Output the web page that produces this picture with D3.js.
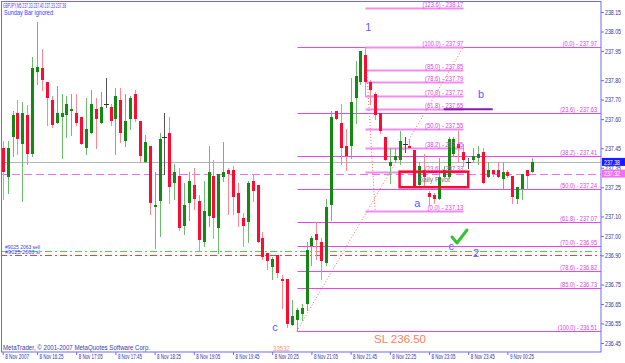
<!DOCTYPE html>
<html>
<head>
<meta charset="utf-8">
<script src="https://cdn.jsdelivr.net/npm/d3@7"></script>
<style>
body { margin: 0; background: #fff; }
svg text { font-family: "Liberation Sans", Arial, sans-serif; }
</style>
</head>
<body>
<div id="chart"></div>
<script>
// GBPJPY M5 bars, 8 Nov 2007 15:50 .. 9 Nov 00:50
var opens = [237.45,237.30,237.51,237.63,237.47,237.62,237.42,237.84,237.86,237.79,
  237.70,237.58,237.61,237.62,237.64,237.63,237.61,237.45,237.53,237.65,
  237.58,237.68,237.66,237.60,237.70,237.49,237.60,237.73,237.59,237.38,
  237.46,237.15,237.18,237.51,237.53,237.27,237.31,237.05,237.17,237.26,
  237.18,236.97,237.10,237.31,237.04,237.30,237.34,237.34,237.22,237.09,
  237.07,237.28,237.26,236.99,236.91,236.84,236.90,236.78,236.78,236.54,
  236.57,236.60,236.65,236.95,237.01,236.97,236.86,237.16,237.64,237.58,
  237.46,237.46,237.71,237.79,237.93,237.79,237.73,237.63,237.51,237.36,
  237.39,237.39,237.47,237.46,237.44,237.26,237.34,237.22,237.21,237.19,
  237.30,237.30,237.42,237.47,237.43,237.38,237.39,237.40,237.43,237.30,
  237.34,237.34,237.29,237.33,237.31,237.19,237.24,237.34,237.33];
var highs = [237.49,237.49,237.64,237.70,237.69,237.67,237.92,238.10,237.96,237.79,
  237.72,237.77,237.73,237.72,237.73,237.73,237.61,237.71,237.75,237.71,
  237.74,237.81,237.68,237.76,237.76,237.73,237.72,237.75,237.59,237.52,
  237.46,237.33,237.53,237.63,237.61,237.37,237.35,237.27,237.33,237.35,
  237.21,237.28,237.46,237.39,237.32,237.48,237.35,237.36,237.27,237.12,
  237.28,237.32,237.26,237.02,236.91,236.89,236.90,236.80,236.78,236.67,
  236.63,236.65,236.97,237.00,237.07,236.99,237.19,237.64,237.64,237.68,
  237.55,237.81,237.90,237.95,237.97,237.80,237.74,237.63,237.51,237.45,
  237.45,237.54,237.51,237.50,237.44,237.38,237.42,237.23,237.22,237.40,
  237.36,237.51,237.51,237.54,237.47,237.40,237.45,237.46,237.45,237.38,
  237.34,237.38,237.38,237.34,237.31,237.25,237.32,237.34,237.40];
var lows = [237.19,237.22,237.41,237.42,237.18,237.37,237.41,237.78,237.75,237.57,
  237.56,237.58,237.40,237.51,237.52,237.57,237.47,237.42,237.53,237.45,
  237.58,237.66,237.57,237.42,237.48,237.46,237.55,237.59,237.38,237.38,
  237.11,236.94,237.00,237.32,237.17,237.19,237.03,237.01,237.08,237.14,
  236.92,236.95,237.05,236.99,236.91,237.28,237.11,237.11,237.05,236.95,
  236.97,237.18,236.97,236.88,236.83,236.78,236.79,236.63,236.53,236.54,
  236.51,236.57,236.62,236.85,236.88,236.78,236.85,237.08,237.60,237.37,
  237.34,237.40,237.58,237.78,237.72,237.68,237.60,237.53,237.39,237.27,
  237.38,237.37,237.43,237.45,237.25,237.25,237.25,237.16,237.17,237.19,
  237.30,237.30,237.41,237.38,237.36,237.35,237.38,237.37,237.27,237.30,
  237.31,237.30,237.24,237.30,237.17,237.17,237.19,237.24,237.33];
var closes = [237.33,237.45,237.62,237.50,237.63,237.42,237.86,237.87,237.80,237.71,
  237.57,237.63,237.63,237.68,237.65,237.58,237.47,237.55,237.68,237.60,
  237.66,237.68,237.59,237.72,237.53,237.59,237.71,237.60,237.41,237.48,
  237.17,237.16,237.50,237.51,237.25,237.33,237.04,237.16,237.28,237.19,
  236.98,237.13,237.33,237.09,237.32,237.33,237.32,237.20,237.12,237.05,
  237.27,237.23,236.97,236.89,236.87,236.88,236.81,236.77,236.55,236.59,
  236.62,236.63,236.93,236.99,236.98,236.87,237.15,237.61,237.60,237.45,
  237.41,237.69,237.82,237.95,237.79,237.75,237.62,237.54,237.39,237.38,
  237.41,237.49,237.47,237.45,237.25,237.36,237.30,237.20,237.19,237.30,
  237.34,237.50,237.50,237.45,237.39,237.38,237.41,237.42,237.27,237.34,
  237.32,237.30,237.33,237.31,237.20,237.25,237.32,237.31,237.38];

var timeTickBars = [0, 7, 15, 23, 31, 39, 47, 55, 63, 71, 79, 87, 95, 103];
var timeTickLabels = ['8 Nov 2007', '8 Nov 16:25', '8 Nov 17:05', '8 Nov 17:45', '8 Nov 18:25',
  '8 Nov 19:05', '8 Nov 19:45', '8 Nov 20:25', '8 Nov 21:05', '8 Nov 21:45',
  '8 Nov 22:25', '8 Nov 23:05', '8 Nov 23:45', '9 Nov 00:25'];
var priceTicks = [238.15, 238.05, 237.95, 237.80, 237.70, 237.60, 237.45, 237.35,
  237.25, 237.10, 237.00, 236.90, 236.75, 236.65, 236.55, 236.45];

// fibo from swing low (bar 60) to swing high (bar 74)
var fib1Levels = ['0.0', '23.6', '38.2', '50.0', '61.8', '70.0', '78.6', '85.0', '100.0'];
var fib1Prices = [237.97, 237.63, 237.41, 237.24, 237.07, 236.95, 236.82, 236.73, 236.51];
// fibo from high (bar 74) to pullback low
var fib2Levels = ['123.6', '100.0', '85.0', '78.6', '70.0', '61.8', '50.0', '38.2', '23.6', '0.0'];
var fib2Prices = [238.17, 237.97, 237.85, 237.79, 237.72, 237.65, 237.55, 237.45, 237.33, 237.13];

var bidPrice = 237.38;
var pivotPrice = 237.32;
var orderPrice = 236.92;
var stopPrice = 236.90;

var W = 625, H = 363;
var plotRight = 601, plotBottom = 352;

var svg = d3.select('#chart').append('svg')
    .attr('width', W)
    .attr('height', H)

svg.append('rect').attr('width', W).attr('height', H).attr('fill', '#ffffff')

var x = d3.scaleLinear().domain([0, 122]).range([2.7, 600.5]);
var y = d3.scaleLinear().domain([236.45, 238.15]).range([343, 12]);

svg.append('clipPath').attr('id', 'plot')
  .append('rect').attr('x', 1).attr('y', 1).attr('width', plotRight - 1).attr('height', plotBottom - 1)

var plot = svg.append('g').attr('clip-path', 'url(#plot)')

function px(i) { return Math.round(x(i)) + 0.5; }
function py(v) { return Math.round(y(v)) + 0.5; }

// fib 1 levels
plot.selectAll('line.fib1')
  .data(fib1Prices)
  .enter()
  .append('line')
  .attr('x1', px(60)).attr('x2', plotRight)
  .attr('y1', d => py(d)).attr('y2', d => py(d))
  .attr('stroke', '#ee44ee')
  .attr('stroke-width', 1)

// fib 2 levels
plot.selectAll('line.fib2')
  .data(fib2Prices)
  .enter()
  .append('line')
  .attr('x1', px(74)).attr('x2', px(94))
  .attr('y1', d => py(d)).attr('y2', d => py(d))
  .attr('stroke', '#f08cf0')
  .attr('stroke-width', 2)

// fibo diagonals
plot.append('line')
  .attr('x1', x(60)).attr('y1', y(236.51)).attr('x2', x(94)).attr('y2', y(237.97))
  .attr('stroke', '#ff6a6a').attr('stroke-dasharray', '1,2')
plot.append('line')
  .attr('x1', x(74)).attr('y1', y(237.97)).attr('x2', x(76)).attr('y2', y(237.13))
  .attr('stroke', '#ff6a6a').attr('stroke-dasharray', '1,2')

// bid line and daily pivot
plot.append('line')
  .attr('x1', 0).attr('x2', plotRight).attr('y1', py(bidPrice)).attr('y2', py(bidPrice))
  .attr('stroke', '#b4b4b4')
plot.append('line')
  .attr('x1', 0).attr('x2', plotRight).attr('y1', py(pivotPrice)).attr('y2', py(pivotPrice))
  .attr('stroke', '#f070f0').attr('stroke-dasharray', '8,4')

// order and stop lines
plot.append('line')
  .attr('x1', 0).attr('x2', plotRight).attr('y1', py(orderPrice)).attr('y2', py(orderPrice))
  .attr('stroke', '#4fd04f').attr('stroke-dasharray', '7,3,2,3')
plot.append('line')
  .attr('x1', 0).attr('x2', plotRight).attr('y1', py(stopPrice)).attr('y2', py(stopPrice))
  .attr('stroke', '#ff3a3a').attr('stroke-dasharray', '7,3,2,3')

// candles
var bars = d3.range(opens.length).map(function(i) {
  return {i: i, o: opens[i], h: highs[i], l: lows[i], c: closes[i]};
});

plot.selectAll('line.wick')
  .data(bars)
  .enter()
  .append('line')
  .attr('x1', d => px(d.i)).attr('x2', d => px(d.i))
  .attr('y1', d => Math.round(y(d.h))).attr('y2', d => Math.round(y(d.l)) + 1)
  .attr('stroke', function(d) {
    if (d.c > d.o) return '#6cbc6c';
    if (d.c < d.o) return '#ff8794';
    return '#555555';
  })

plot.selectAll('rect.body')
  .data(bars.filter(d => d.c != d.o))
  .enter()
  .append('rect')
  .attr('x', d => Math.round(x(d.i)) - 1)
  .attr('width', 3)
  .attr('y', d => Math.round(y(Math.max(d.o, d.c))))
  .attr('height', d => Math.max(2, Math.round(y(Math.min(d.o, d.c))) - Math.round(y(Math.max(d.o, d.c)))))
  .attr('fill', d => d.c > d.o ? '#128a12' : '#ff0a30')

plot.selectAll('line.doji')
  .data(bars.filter(d => d.c == d.o))
  .enter()
  .append('line')
  .attr('x1', d => Math.round(x(d.i)) - 2).attr('x2', d => Math.round(x(d.i)) + 3)
  .attr('y1', d => py(d.o)).attr('y2', d => py(d.o))
  .attr('stroke', '#333333')

// daily pivot box
plot.append('rect')
  .attr('x', x(81)).attr('y', y(237.33))
  .attr('width', x(95) - x(81)).attr('height', y(237.25) - y(237.33))
  .attr('fill', 'none').attr('stroke', '#ff0a30').attr('stroke-width', 2.5)
plot.append('text').text('Daily Pivot')
  .attr('x', 418).attr('y', 182).attr('font-size', 7).attr('fill', '#707070')
  .attr('textLength', 32).attr('lengthAdjust', 'spacingAndGlyphs')

// wave b line
plot.append('line')
  .attr('x1', x(90)).attr('x2', x(100)).attr('y1', y(237.65)).attr('y2', y(237.65))
  .attr('stroke', '#8a1aa8').attr('stroke-width', 2)

// fib labels
plot.selectAll('text.f1')
  .data(fib1Prices)
  .enter()
  .append('text')
  .text((d, i) => '(' + fib1Levels[i] + ') - ' + d.toFixed(2))
  .attr('x', 597).attr('y', d => py(d) - 1.5)
  .attr('text-anchor', 'end')
  .attr('font-size', 6.5).attr('fill', '#e040e0')
  .attr('textLength', function() { return this.textContent.length * 2.45; })
  .attr('lengthAdjust', 'spacingAndGlyphs')

plot.selectAll('text.f2')
  .data(fib2Prices)
  .enter()
  .append('text')
  .text((d, i) => '(' + fib2Levels[i] + ') - ' + d.toFixed(2))
  .attr('x', x(94)).attr('y', d => py(d) - 2)
  .attr('text-anchor', 'end')
  .attr('font-size', 7).attr('fill', '#e040e0')
  .attr('textLength', function() { return this.textContent.length * 2.55; })
  .attr('lengthAdjust', 'spacingAndGlyphs')

// wave labels
var waveNames = ['1', 'b', 'a', 'c', '2', 'c'];
var waveBars = [74, 97, 84, 91, 96, 55];
var wavePrices = [238.05, 237.71, 237.15, 236.93, 236.89, 236.51];
plot.selectAll('text.wave')
  .data(waveNames)
  .enter()
  .append('text')
  .text(d => d)
  .attr('x', (d, i) => x(waveBars[i]))
  .attr('y', (d, i) => y(wavePrices[i]))
  .attr('font-size', 11).attr('fill', '#5a5aff')

// check mark
plot.append('path')
  .attr('d', 'M452,237 L457,243 L467,230')
  .attr('fill', 'none').attr('stroke', '#33c433').attr('stroke-width', 3)
  .attr('stroke-linecap', 'round').attr('stroke-linejoin', 'round')

// order labels
plot.append('text').text('#9025 2063 sell')
  .attr('x', 5).attr('y', 249).attr('font-size', 5.5).attr('fill', '#3a3aff')
  .attr('textLength', 35).attr('lengthAdjust', 'spacingAndGlyphs')
plot.append('text').text('#9025 2063 sl')
  .attr('x', 5).attr('y', 254).attr('font-size', 5.5).attr('fill', '#3a3aff')
  .attr('textLength', 35).attr('lengthAdjust', 'spacingAndGlyphs')

plot.append('text').text('SL 236.50')
  .attr('x', 374).attr('y', 343).attr('font-size', 11.5).attr('fill', '#ff8060')
plot.append('text').text('33532')
  .attr('x', 273).attr('y', 351).attr('font-size', 7).attr('fill', '#ff9070')
  .attr('textLength', 17).attr('lengthAdjust', 'spacingAndGlyphs')

// header and copyright
svg.append('text').text('GBPJPY,M5  237.33 237.40 237.33 237.38')
  .attr('x', 3).attr('y', 8).attr('font-size', 7).attr('fill', '#3a3aff')
  .attr('textLength', 63).attr('lengthAdjust', 'spacingAndGlyphs')
svg.append('text').text('Sunday Bar ignored')
  .attr('x', 4).attr('y', 15).attr('font-size', 7).attr('fill', '#3a3aff')
  .attr('textLength', 49).attr('lengthAdjust', 'spacingAndGlyphs')
svg.append('text').text('MetaTrader, \u00a9 2001-2007 MetaQuotes Software Corp.')
  .attr('x', 3).attr('y', 350).attr('font-size', 7).attr('fill', '#3a3aa8')
  .attr('textLength', 147).attr('lengthAdjust', 'spacingAndGlyphs')

// frame
svg.append('rect')
  .attr('x', 1.5).attr('y', 1.5).attr('width', plotRight - 1.5).attr('height', plotBottom - 1.5)
  .attr('fill', 'none').attr('stroke', '#6b6bff')

// price axis
var yAxis = d3.axisRight(y).tickValues(priceTicks).tickSize(3).tickFormat(d3.format('.2f'));
var gy = svg.append('g').attr('transform', 'translate(' + plotRight + ',0)').call(yAxis)
gy.select('.domain').remove()
gy.selectAll('line').attr('stroke', '#6b6bff')
gy.selectAll('text')
  .attr('x', 4).attr('font-size', 7).attr('fill', '#33339a')
  .attr('font-family', '"Liberation Sans", Arial, sans-serif')
  .attr('textLength', 16).attr('lengthAdjust', 'spacingAndGlyphs')

// current price boxes
var tags = [{p: bidPrice, bg: '#1a1aff'}, {p: pivotPrice, bg: '#f070f0'}];
svg.selectAll('g.tag')
  .data(tags)
  .enter()
  .append('g')
  .each(function(d) {
    var g = d3.select(this);
    g.append('rect').attr('x', 602).attr('y', y(d.p) - 4).attr('width', 23).attr('height', 8).attr('fill', d.bg)
    g.append('text').text(d.p.toFixed(2)).attr('x', 604).attr('y', y(d.p) + 2.7)
      .attr('font-size', 7).attr('fill', '#ffffff')
      .attr('textLength', 16).attr('lengthAdjust', 'spacingAndGlyphs')
  })

// time axis
var xAxis = d3.axisBottom(x).tickValues(timeTickBars).tickSize(3).tickFormat((d, i) => timeTickLabels[i]);
var gx = svg.append('g').attr('transform', 'translate(0,' + plotBottom + ')').call(xAxis)
gx.select('.domain').remove()
gx.selectAll('line').attr('stroke', '#6b6bff')
gx.selectAll('text')
  .attr('text-anchor', 'start').attr('x', 2).attr('y', 2).attr('dy', '0.71em')
  .attr('font-size', 7).attr('fill', '#33339a')
  .attr('font-family', '"Liberation Sans", Arial, sans-serif')
  .attr('textLength', 24).attr('lengthAdjust', 'spacingAndGlyphs')
</script>
</body>
</html>
